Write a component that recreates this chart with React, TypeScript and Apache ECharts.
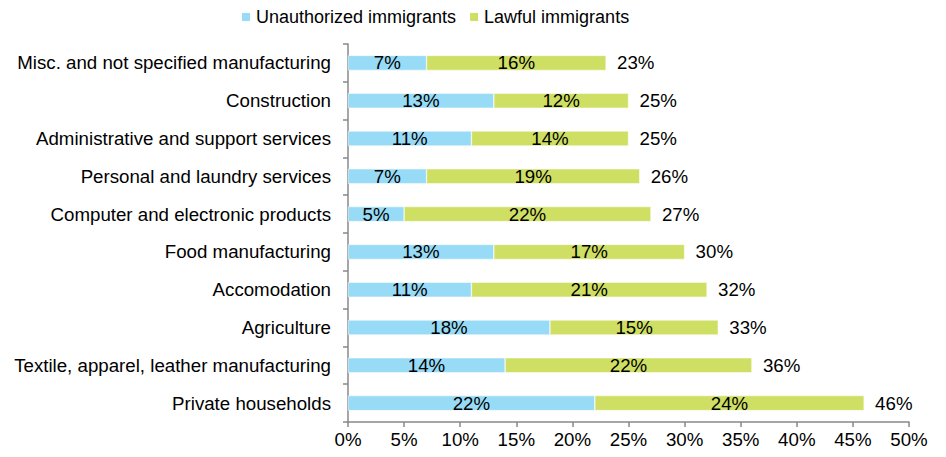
import React, { useEffect, useRef } from "react";
import * as echarts from "echarts";

const categories = [
  "Misc. and not specified manufacturing",
  "Construction",
  "Administrative and support services",
  "Personal and laundry services",
  "Computer and electronic products",
  "Food manufacturing",
  "Accomodation",
  "Agriculture",
  "Textile, apparel, leather manufacturing",
  "Private households",
];
const unauthorized = [7, 13, 11, 7, 5, 13, 11, 18, 14, 22];
const lawful = [16, 12, 14, 19, 22, 17, 21, 15, 22, 24];
const totals = [23, 25, 25, 26, 27, 30, 32, 33, 36, 46];
const xTicks = [0, 5, 10, 15, 20, 25, 30, 35, 40, 45, 50];

const FONT = "Liberation Sans, Arial, sans-serif";
const FS = 18.7;

export default function App() {
  const ref = useRef<HTMLDivElement>(null);
  useEffect(() => {
    if (!ref.current) return;
    const chart = echarts.init(ref.current, undefined, { renderer: "svg" });
    chart.setOption({
      animation: false,
      textStyle: { fontFamily: FONT },
      legend: {
        top: 0,
        left: 232,
        padding: 0,
        itemWidth: 10,
        itemHeight: 10,
        itemGap: 12,
        icon: "rect",
        textStyle: { fontSize: 18, color: "#000", fontFamily: FONT },
        data: ["Unauthorized immigrants", "Lawful immigrants"],
      },
      grid: { left: 340, right: 29, top: 36, bottom: 26 },
      xAxis: {
        type: "value",
        min: xTicks[0],
        max: xTicks[xTicks.length - 1],
        interval: 5,
        splitLine: { show: false },
        axisLine: { show: true, lineStyle: { color: "#888", width: 1.5 } },
        axisTick: { show: true, length: 5, lineStyle: { color: "#888", width: 1.5 } },
        axisLabel: { formatter: "{value}%", fontSize: FS, color: "#000", fontFamily: FONT, margin: 8 },
      },
      yAxis: {
        type: "category",
        inverse: true,
        data: categories,
        axisLine: { show: true, lineStyle: { color: "#888", width: 1.5 } },
        axisTick: { show: true, length: 5, lineStyle: { color: "#888", width: 1.5 } },
        axisLabel: { fontSize: FS, color: "#000", fontFamily: FONT, margin: 17 },
      },
      series: [
        {
          name: "Unauthorized immigrants",
          type: "bar",
          stack: "t",
          barWidth: 15,
          data: unauthorized,
          itemStyle: { color: "#97DBF7", borderColor: "#fff", borderWidth: 0.5 },
          label: { show: true, position: "inside", formatter: "{c}%", fontSize: FS, color: "#000", fontFamily: FONT },
        },
        {
          name: "Lawful immigrants",
          type: "bar",
          stack: "t",
          barWidth: 15,
          data: lawful,
          itemStyle: { color: "#CFDF63", borderColor: "#fff", borderWidth: 0.5 },
          label: { show: true, position: "inside", formatter: "{c}%", fontSize: FS, color: "#000", fontFamily: FONT },
        },
        {
          name: "Total",
          type: "bar",
          stack: "t",
          barWidth: 15,
          data: totals.map(() => 0),
          itemStyle: { color: "transparent" },
          label: {
            show: true,
            position: "right",
            distance: 11,
            formatter: (p: any) => totals[p.dataIndex] + "%",
            fontSize: FS,
            color: "#000",
            fontFamily: FONT,
          },
          tooltip: { show: false },
        },
      ],
    });
    return () => chart.dispose();
  }, []);
  return <div ref={ref} style={{ width: 930, height: 441 }} />;
}
